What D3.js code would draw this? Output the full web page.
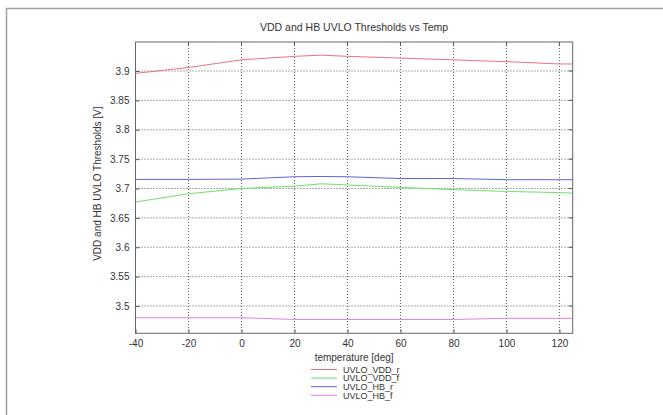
<!DOCTYPE html>
<html><head><meta charset="utf-8">
<script src="https://cdn.jsdelivr.net/npm/d3@7"></script>
<style>body{margin:0;background:#fff}svg{display:block;font-family:"Liberation Sans",Arial,sans-serif}</style>
</head><body><svg id="c" width="663" height="415"></svg>
<script>
const temps = [-40, -20, 0, 20, 30, 40, 60, 80, 100, 120, 125];
const vddR = [3.896, 3.906, 3.919, 3.925, 3.927, 3.925, 3.922, 3.919, 3.916, 3.912, 3.912];
const vddF = [3.677, 3.691, 3.700, 3.704, 3.708, 3.706, 3.702, 3.698, 3.695, 3.693, 3.692];
const hbR  = [3.7155, 3.7155, 3.716, 3.720, 3.7205, 3.720, 3.717, 3.717, 3.715, 3.715, 3.715];
const hbF  = [3.480, 3.480, 3.480, 3.477, 3.477, 3.477, 3.477, 3.477, 3.479, 3.479, 3.479];
const seriesNames = ["UVLO_VDD_r", "UVLO_VDD_f", "UVLO_HB_r", "UVLO_HB_f"];
const seriesColors = ["#ec6f86", "#6ee06e", "#6262d8", "#e184e1"];
const xTicks = [-40, -20, 0, 20, 40, 60, 80, 100, 120];
const yTicks = [3.5, 3.55, 3.6, 3.65, 3.7, 3.75, 3.8, 3.85, 3.9];

const svg = d3.select("#c");
const L = 135.5, R = 572.7, T = 42, B = 333.3;
const x = d3.scaleLinear().domain([-40, 125]).range([L, R]);
const y = d3.scaleLinear().domain([3.4535, 3.9494]).range([B, T]);

// outer frame (top and left only)
svg.append("line").attr("x1", 6).attr("x2", 663).attr("y1", 8.5).attr("y2", 8.5).attr("stroke", "#a0a0a0").attr("stroke-width", 1.5);
svg.append("line").attr("x1", 6.5).attr("x2", 6.5).attr("y1", 8).attr("y2", 415).attr("stroke", "#a0a0a0").attr("stroke-width", 1.5);

// grid
const grid = svg.append("g").attr("stroke", "#333").attr("stroke-width", 0.8).attr("stroke-dasharray", "1,2");
grid.selectAll(".gx").data(xTicks).join("line").attr("x1", d => x(d)).attr("x2", d => x(d)).attr("y1", T).attr("y2", B);
grid.selectAll(".gy").data(yTicks).join("line").attr("y1", d => y(d)).attr("y2", d => y(d)).attr("x1", L).attr("x2", R);

// axes
const xAxis = d3.axisBottom(x).tickValues(xTicks).tickSize(-4).tickPadding(7).tickFormat(d => String(d));
const yAxis = d3.axisLeft(y).tickValues(yTicks).tickSize(-4).tickPadding(6).tickFormat(d => String(+d.toFixed(2)));
const gx = svg.append("g").attr("transform", `translate(0,${B})`).call(xAxis);
const gy = svg.append("g").attr("transform", `translate(${L},0)`).call(yAxis);
[gx, gy].forEach(g => {
  g.select(".domain").remove();
  g.selectAll("line").attr("stroke", "#555");
  g.selectAll("text").attr("fill", "#333").style("font-size", "10px");
});
// top/right ticks
svg.append("g").selectAll("line").data(xTicks).join("line").attr("x1", d => x(d)).attr("x2", d => x(d)).attr("y1", T).attr("y2", T + 4).attr("stroke", "#555");
svg.append("g").selectAll("line").data(yTicks).join("line").attr("x1", R).attr("x2", R - 4).attr("y1", d => y(d)).attr("y2", d => y(d)).attr("stroke", "#555");

// lines
const line = d3.line().x((d, i) => x(temps[i])).y(d => y(d)).curve(d3.curveLinear);
[vddR, vddF, hbR, hbF].forEach((s, k) => {
  svg.append("path").datum(s).attr("d", line).attr("fill", "none").attr("stroke", seriesColors[k]).attr("stroke-width", 1);
});

// box
svg.append("rect").attr("x", L).attr("y", T).attr("width", R - L).attr("height", B - T).attr("fill", "none").attr("stroke", "#666").attr("stroke-width", 1);

// title and labels
svg.append("text").attr("x", (L + R) / 2).attr("y", 31).attr("text-anchor", "middle").attr("fill", "#333").style("font-size", "10.5px").text("VDD and HB UVLO Thresholds vs Temp");
svg.append("text").attr("x", (L + R) / 2).attr("y", 360.5).attr("text-anchor", "middle").attr("fill", "#333").style("font-size", "10px").text("temperature [deg]");
svg.append("text").attr("transform", `translate(101,${(T + B) / 2 - 4}) rotate(-90)`).attr("text-anchor", "middle").attr("fill", "#333").style("font-size", "10px").text("VDD and HB UVLO Thresholds [V]");

// legend
const lg = svg.append("g");
seriesNames.forEach((n, i) => {
  const yy = 369.5 + i * 8.6;
  lg.append("line").attr("x1", 311).attr("x2", 337).attr("y1", yy).attr("y2", yy).attr("stroke", seriesColors[i]).attr("stroke-width", 1);
  lg.append("text").attr("x", 343).attr("y", yy + 3.2).attr("fill", "#333").style("font-size", "9px").text(n);
});
</script></body></html>
